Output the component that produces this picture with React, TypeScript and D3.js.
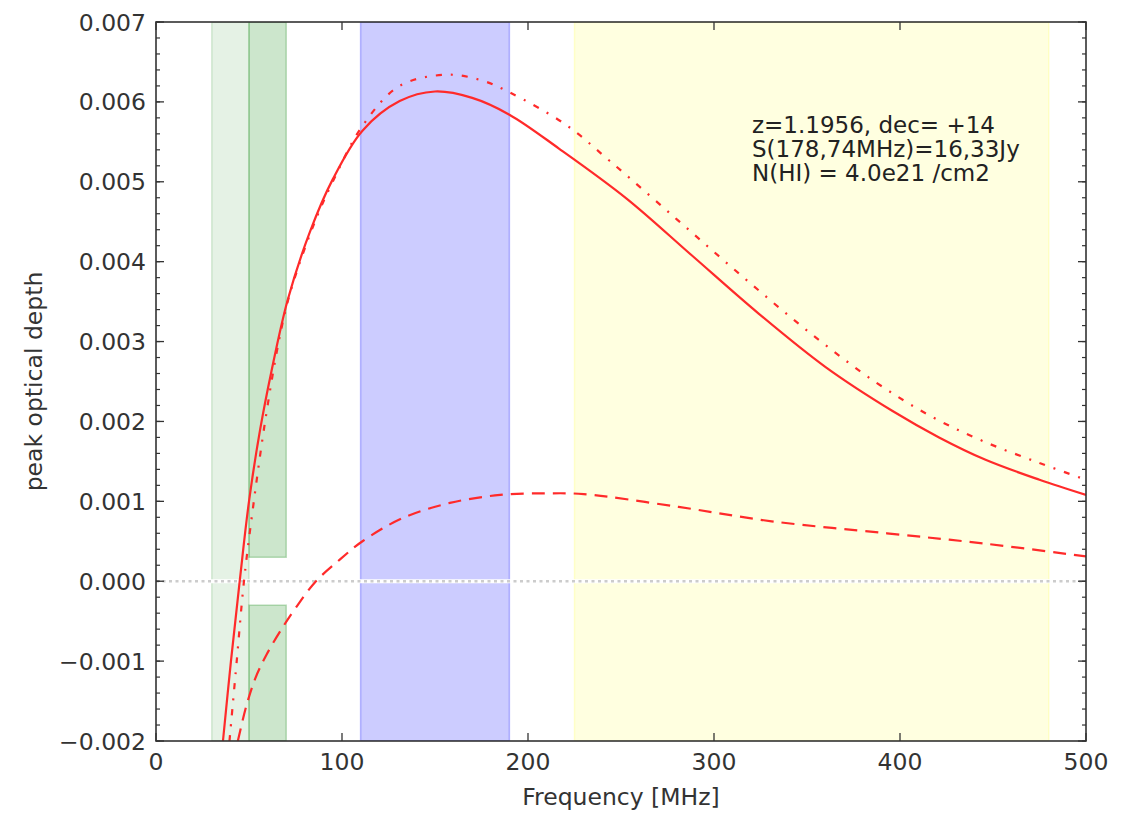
import React from "react";
import * as d3 from "d3";

// ---- data ----
const solidFreq = [36, 40.3, 45, 50, 56, 62, 70.8, 82.7, 95, 111, 131, 150, 170, 190, 217, 253, 288, 324, 360, 396, 421, 446, 475, 500];
const solidTau = [-0.002, -0.001, 0, 0.001, 0.0019, 0.00262, 0.00352, 0.00437, 0.00503, 0.00564, 0.00601, 0.00613, 0.00605, 0.00584, 0.00541, 0.00479, 0.00408, 0.00335, 0.00268, 0.00213, 0.0018, 0.00152, 0.00127, 0.00108];

const dashdotFreq = [39.5, 43.4, 47.3, 52.6, 59, 66, 72, 84.4, 95, 111, 131, 156, 175, 190, 220, 244, 280, 315, 351, 387, 417, 445, 475, 500];
const dashdotTau = [-0.002, -0.001, 0, 0.001, 0.00205, 0.003, 0.0036, 0.00444, 0.005, 0.0057, 0.0062, 0.00634, 0.00627, 0.00612, 0.00572, 0.00526, 0.00453, 0.00382, 0.00312, 0.00249, 0.00206, 0.00175, 0.00148, 0.00127];

const dashedFreq = [44, 48.7, 53.5, 59.4, 68.3, 75.5, 86, 98.8, 111, 132.5, 158, 185, 210, 230, 281, 331, 393, 446, 500];
const dashedTau = [-0.002, -0.00155, -0.00121, -0.00092, -0.00057, -0.00032, 0, 0.00027, 0.0005, 0.00079, 0.00098, 0.00108, 0.0011, 0.00109, 0.00093, 0.00075, 0.0006, 0.00047, 0.00031];

// shaded bands
const bandLow = [30, 50, 50, 110, 225];
const bandHigh = [50, 70, 70, 190, 480];
const bandTauLow = [-0.002, 0.0003, -0.002, -0.002, -0.002];
const bandTauHigh = [0.007, 0.007, -0.0003, 0.007, 0.007];
const bandColor = ["green", "green", "green", "blue", "yellow"];
const bandOpacity = [0.1, 0.2, 0.2, 0.2, 0.12];

const xTicks = [0, 100, 200, 300, 400, 500];
const yTicks = [-0.002, -0.001, 0, 0.001, 0.002, 0.003, 0.004, 0.005, 0.006, 0.007];
const yMinorTicks = d3.range(-0.002, 0.00701, 0.0002);

const annotation = ["z=1.1956, dec= +14", "S(178,74MHz)=16,33Jy", "N(HI) = 4.0e21 /cm2"];

const W = 1137;
const H = 819;
const L = 156, T = 22, R = 1086, B = 741;
const FONT = "'DejaVu Sans', sans-serif";

export default function App() {
  const x = d3.scaleLinear().domain([0, 500]).range([L, R]);
  const y = d3.scaleLinear().domain([-0.002, 0.007]).range([B, T]);

  const mk = (fs: number[], ts: number[]) =>
    d3.line<number>().x((_, i) => x(fs[i])).y((v) => y(v)).curve(d3.curveCatmullRom.alpha(0.5))(ts) || "";

  const red = "#ff2a2a";

  return (
    <svg width={W} height={H} style={{ position: "absolute", left: 0, top: 0, background: "white" }}>
      <defs>
        <clipPath id="plot">
          <rect x={L} y={T} width={R - L} height={B - T} />
        </clipPath>
      </defs>
      <rect x={0} y={0} width={W} height={H} fill="white" />
      <g clipPath="url(#plot)">
        {bandLow.map((f, i) => (
          <rect
            key={i}
            x={x(f)}
            y={y(bandTauHigh[i])}
            width={x(bandHigh[i]) - x(f)}
            height={y(bandTauLow[i]) - y(bandTauHigh[i])}
            fill={bandColor[i]}
            fillOpacity={bandOpacity[i]}
            stroke={bandColor[i]}
            strokeOpacity={bandOpacity[i] + 0.05}
            strokeWidth={1.5}
          />
        ))}
        <line x1={L} x2={R} y1={y(0)} y2={y(0)} stroke="white" strokeWidth={4} />
        <line x1={L} x2={R} y1={y(0)} y2={y(0)} stroke="#cccccc" strokeWidth={2.5} strokeDasharray="3,3.5" />
        <path d={mk(dashedFreq, dashedTau)} fill="none" stroke={red} strokeWidth={2.2} strokeDasharray="13,8" />
        <path d={mk(dashdotFreq, dashdotTau)} fill="none" stroke={red} strokeWidth={2.2} strokeDasharray="6,9,2,9" />
        <path d={mk(solidFreq, solidTau)} fill="none" stroke={red} strokeWidth={2.2} />
      </g>

      {/* frame */}
      <rect x={L} y={T} width={R - L} height={B - T} fill="none" stroke="#333" strokeWidth={1.6} />

      {/* x ticks */}
      {xTicks.map((t) => (
        <g key={"x" + t}>
          <line x1={x(t)} x2={x(t)} y1={B} y2={B - 8} stroke="#333" strokeWidth={1.3} />
          <line x1={x(t)} x2={x(t)} y1={T} y2={T + 8} stroke="#333" strokeWidth={1.3} />
          <text x={x(t)} y={770} textAnchor="middle" fontFamily={FONT} fontSize={23.5} fill="#333">
            {t}
          </text>
        </g>
      ))}

      {/* y minor ticks */}
      {yMinorTicks.map((t, i) => (
        <g key={"ym" + i}>
          <line x1={L} x2={L + 4} y1={y(t)} y2={y(t)} stroke="#333" strokeWidth={1.2} />
          <line x1={R} x2={R - 4} y1={y(t)} y2={y(t)} stroke="#333" strokeWidth={1.2} />
        </g>
      ))}
      {/* y major ticks */}
      {yTicks.map((t) => (
        <g key={"y" + t}>
          <line x1={L} x2={L + 8} y1={y(t)} y2={y(t)} stroke="#333" strokeWidth={1.3} />
          <line x1={R} x2={R - 8} y1={y(t)} y2={y(t)} stroke="#333" strokeWidth={1.3} />
          <text x={146} y={y(t) + 8.5} textAnchor="end" fontFamily={FONT} fontSize={23.5} fill="#333">
            {t < 0 ? "\u2212" + d3.format(".3f")(-t) : d3.format(".3f")(t)}
          </text>
        </g>
      ))}

      {/* axis labels */}
      <text x={(L + R) / 2} y={805} textAnchor="middle" fontFamily={FONT} fontSize={23.5} fill="#333">
        Frequency [MHz]
      </text>
      <text
        transform={`translate(42,${(T + B) / 2}) rotate(-90)`}
        textAnchor="middle"
        fontFamily={FONT}
        fontSize={23.5}
        fill="#333"
      >
        peak optical depth
      </text>

      {/* annotation */}
      {annotation.map((s, i) => (
        <text key={i} x={752} y={133 + i * 24} fontFamily={FONT} fontSize={23} fill="#222">
          {s}
        </text>
      ))}
    </svg>
  );
}
